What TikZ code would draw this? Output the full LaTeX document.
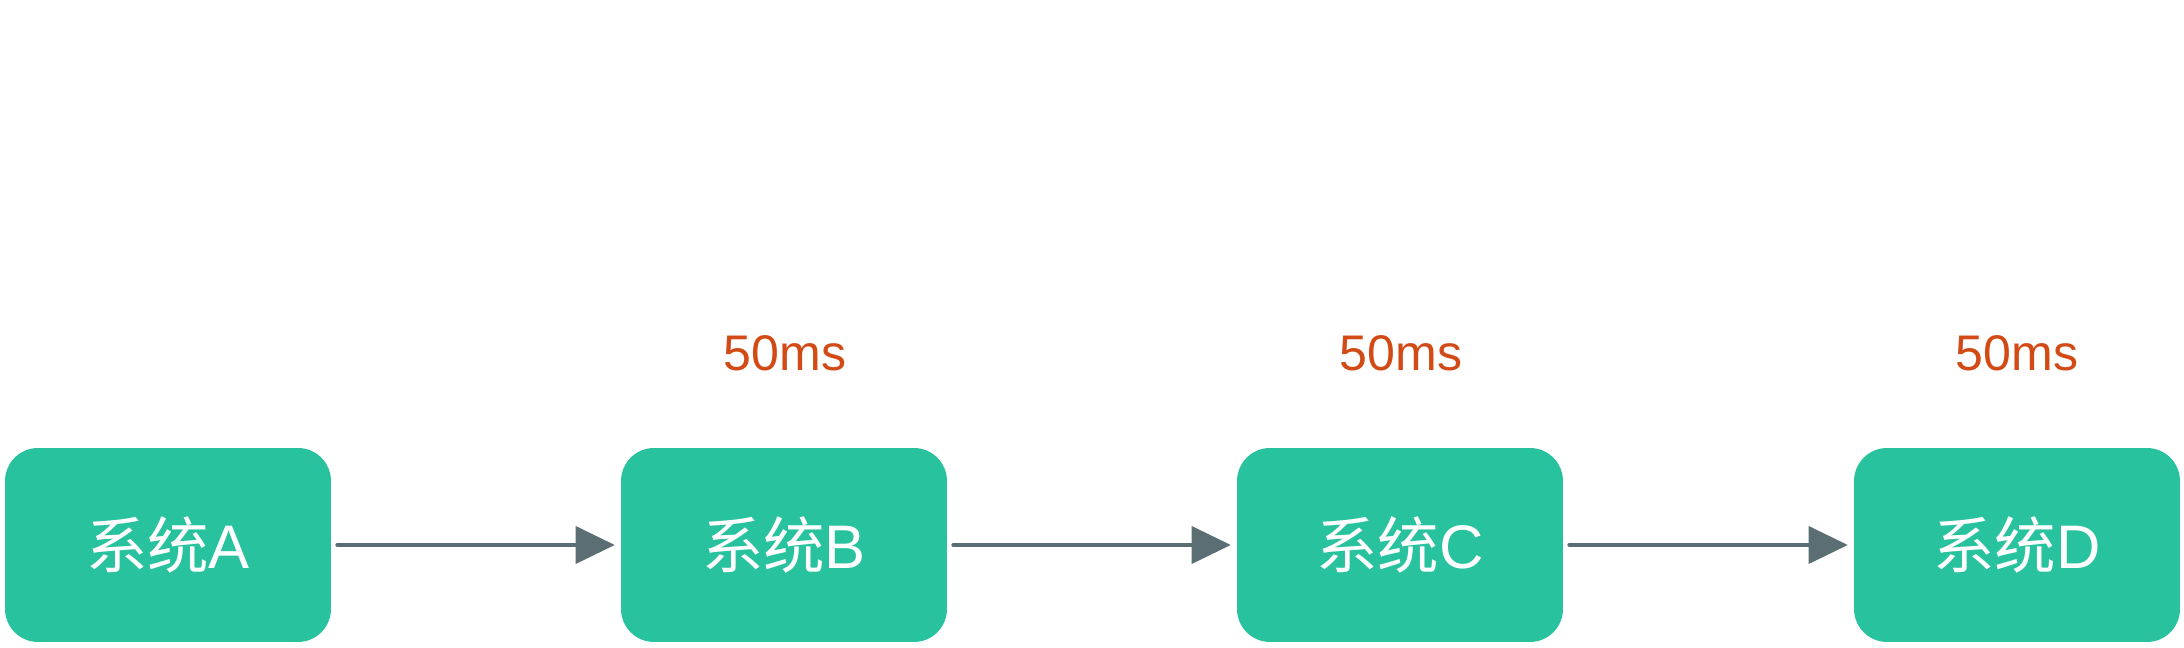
\documentclass[tikz,border=0pt]{standalone}
\usepackage{fontspec}
\setmainfont{Liberation Sans}
\newfontfamily\cjk{Noto Sans CJK SC}
\usetikzlibrary{arrows.meta}
\definecolor{sysgreen}{HTML}{28C29E}
\definecolor{arrowgray}{HTML}{5A6E73}
\definecolor{delayorange}{HTML}{D24A15}
\begin{document}
\begin{tikzpicture}[x=0.02cm,y=0.02cm,
  sysbox/.style={shape=rectangle,rounded corners=0.66cm,fill=sysgreen,
    minimum width=6.52cm,minimum height=3.88cm,inner sep=0pt,
    text=white,font=\fontsize{35}{40}\selectfont},
  delay/.style={text=delayorange,font=\fontsize{28.5}{32}\selectfont},
  flow/.style={color=arrowgray,line width=0.08cm,line cap=round,
    -{Triangle[length=0.78cm,width=0.76cm,line width=0pt]},shorten <=0.12cm,shorten >=0.12cm}]
  \useasboundingbox (0,0) rectangle (2184,648);
  \node[sysbox] (A) at (168,103) {{\cjk 系统}A};
  \node[sysbox] (B) at (784,103) {{\cjk 系统}B};
  \node[sysbox] (C) at (1400,103) {{\cjk 系统}C};
  \node[sysbox] (D) at (2017,103) {{\cjk 系统}D};
  \node[delay] (tB) at (785,295) {50ms};
  \node[delay] (tC) at (1401,295) {50ms};
  \node[delay] (tD) at (2017,295) {50ms};
  \path[flow] (A) edge node {} (B);
  \path[flow] (B) edge node {} (C);
  \path[flow] (C) edge node {} (D);
\end{tikzpicture}
\end{document}
